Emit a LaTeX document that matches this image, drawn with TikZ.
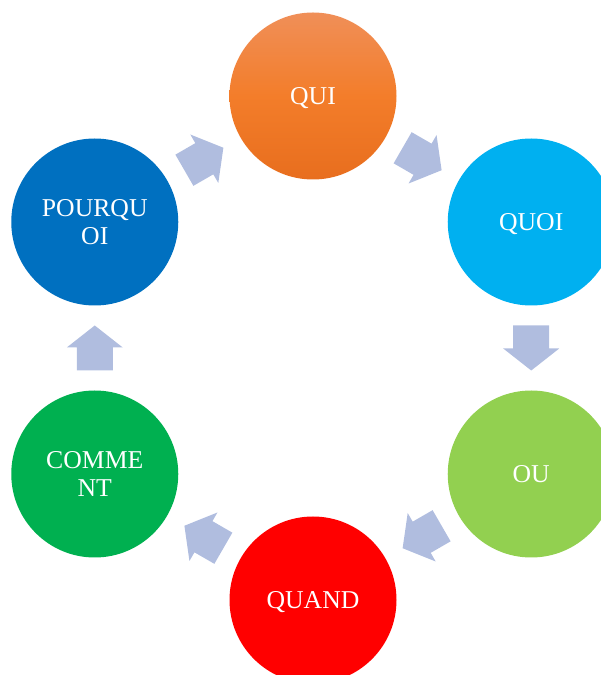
\documentclass[tikz,border=0pt]{standalone}
\usepackage{fontspec}
\setmainfont{Liberation Serif}
\usetikzlibrary{calc}
\definecolor{quicolA}{RGB}{240,143,88}
\definecolor{quicolB}{RGB}{243,125,42}
\definecolor{quicolC}{RGB}{232,110,30}
\definecolor{quoicol}{RGB}{0,176,240}
\definecolor{oucol}{RGB}{146,208,80}
\definecolor{quandcol}{RGB}{255,0,0}
\definecolor{commentcol}{RGB}{0,176,80}
\definecolor{pourquoicol}{RGB}{0,112,192}
\definecolor{arrowcol}{RGB}{176,189,223}
\begin{document}
\begin{tikzpicture}[x=1pt,y=1pt,
  bubble/.style={circle, minimum size=167pt, inner sep=0pt, text=white,
    align=center, text depth=0pt, font=\fontsize{25.7}{27.5}\selectfont},
  blockarrow/.pic={
    \fill[arrowcol] (-22.5,-18) -- (0.5,-18) -- (0.5,-28) -- (22.5,0)
      -- (0.5,28) -- (0.5,18) -- (-22.5,18) -- cycle;
  }]
  \useasboundingbox (0,0) rectangle (601,675);
  \clip (0,0) rectangle (601,675);
  % ring centre and radii
  \coordinate (c) at (313,327);
  % the six questions around the ring
  \node[bubble, top color=quicolA, bottom color=quicolC, middle color=quicolB]
    (qui) at ($(c)+(90:252)$) {QUI};
  \node[bubble, fill=quoicol] (quoi) at ($(c)+(30:252)$) {QUOI};
  \node[bubble, fill=oucol] (ou) at ($(c)+(-30:252)$) {OU};
  \node[bubble, fill=quandcol] (quand) at ($(c)+(-90:252)$) {QUAND};
  \node[bubble, fill=commentcol] (comment) at ($(c)+(210:252)$) {COMME\\NT};
  \node[bubble, fill=pourquoicol] (pourquoi) at ($(c)+(150:252)$) {POURQU\\OI};
  % block arrows halfway between neighbours, running clockwise
  \coordinate (a1) at ($(pourquoi)!0.5!(qui)$);
  \coordinate (a2) at ($(qui)!0.5!(quoi)$);
  \coordinate (a3) at ($(quoi)!0.5!(ou)$);
  \coordinate (a4) at ($(ou)!0.5!(quand)$);
  \coordinate (a5) at ($(quand)!0.5!(comment)$);
  \coordinate (a6) at ($(comment)!0.5!(pourquoi)$);
  \pic[rotate=30] at (a1) {blockarrow};
  \pic[rotate=-30] at (a2) {blockarrow};
  \pic[rotate=-90] at (a3) {blockarrow};
  \pic[rotate=-150] at (a4) {blockarrow};
  \pic[rotate=150] at (a5) {blockarrow};
  \pic[rotate=90] at (a6) {blockarrow};
\end{tikzpicture}
\end{document}
